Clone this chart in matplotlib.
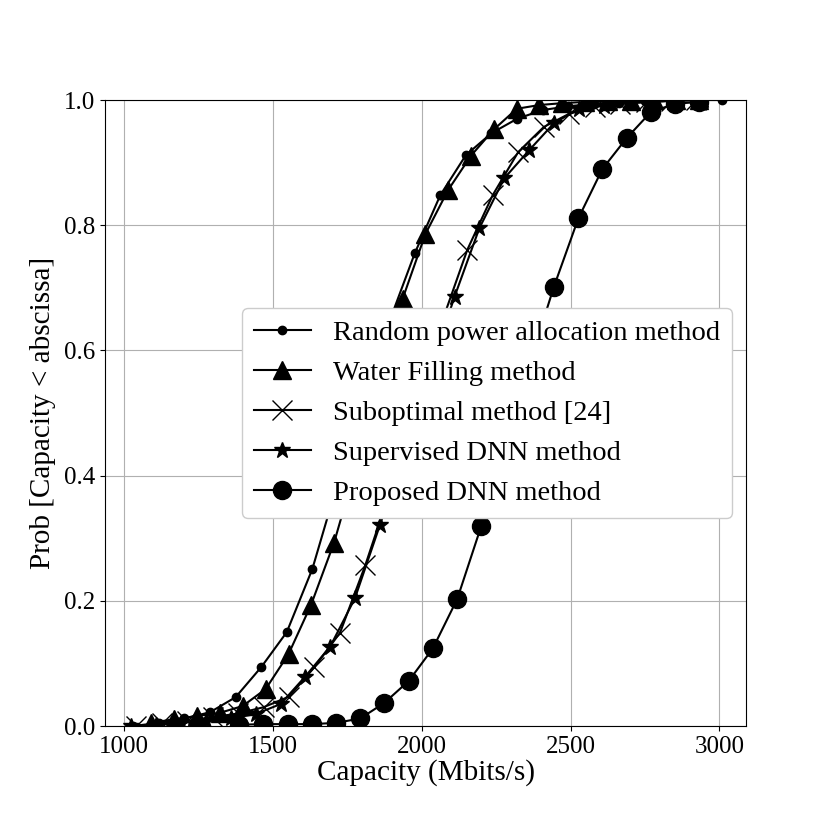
import matplotlib
matplotlib.use("Agg")
import matplotlib.pyplot as plt

plt.rcParams["font.family"] = ["Liberation Serif", "DejaVu Serif"]
plt.rcParams["font.size"] = 18

# Values ---------------------------------------------------------------------

random_cap = [1030, 1116, 1202, 1288, 1374, 1460, 1546, 1632, 1718, 1804, 1890, 1976,
              2062, 2148, 2234, 2320, 2406, 2492, 2578, 2664, 2750, 2836, 2922, 3008]
random_cdf = [0.0, 0.005, 0.012, 0.022, 0.046, 0.094, 0.150, 0.251, 0.39, 0.52, 0.645, 0.755,
              0.848, 0.912, 0.947, 0.970, 0.984, 0.990, 0.994, 0.996, 0.998, 0.999, 1.0, 1.0]

wf_cap = [1091, 1168, 1245, 1321, 1398, 1475, 1552, 1628, 1705, 1782, 1858, 1935, 2012,
          2088, 2165, 2242, 2319, 2395, 2472, 2549, 2625, 2702, 2779, 2855, 2932]
wf_cdf = [0.005, 0.011, 0.016, 0.021, 0.032, 0.059, 0.115, 0.194, 0.293, 0.42, 0.555, 0.682, 0.786,
          0.856, 0.911, 0.953, 0.986, 0.992, 0.995, 0.997, 0.998, 0.999, 1.0, 1.0, 1.0]

sub_cap = [1040, 1126, 1211, 1297, 1382, 1468, 1554, 1639, 1725, 1810, 1896, 1982,
           2067, 2153, 2238, 2324, 2410, 2495, 2581, 2666, 2752, 2838, 2923]
sub_cdf = [0.0, 0.004, 0.008, 0.014, 0.020, 0.030, 0.047, 0.094, 0.149, 0.257, 0.38, 0.52,
           0.645, 0.761, 0.848, 0.917, 0.957, 0.978, 0.989, 0.994, 0.997, 0.999, 1.0]

sup_cap = [1023, 1107, 1190, 1274, 1357, 1441, 1525, 1608, 1692, 1775, 1859, 1943,
           2026, 2110, 2193, 2277, 2361, 2444, 2528, 2611, 2695, 2779, 2862, 2946]
sup_cdf = [0.0, 0.002, 0.005, 0.008, 0.012, 0.019, 0.035, 0.079, 0.127, 0.204, 0.321, 0.443,
           0.565, 0.686, 0.795, 0.875, 0.920, 0.963, 0.986, 0.991, 0.995, 0.997, 0.999, 1.0]

prop_cap = [1386, 1467, 1549, 1630, 1712, 1793, 1874, 1956, 2037, 2119, 2200,
            2281, 2363, 2444, 2526, 2607, 2688, 2770, 2851, 2933]
prop_cdf = [0.002, 0.003, 0.003, 0.003, 0.005, 0.012, 0.037, 0.072, 0.124, 0.203, 0.320,
            0.45, 0.58, 0.702, 0.811, 0.890, 0.939, 0.981, 0.994, 0.997]

labels = ["Random power allocation method", "Water Filling method",
          "Suboptimal method [24]", "Supervised DNN method", "Proposed DNN method"]

fig = plt.figure(figsize=(8.3, 8.3), dpi=100)
ax = fig.add_axes([0.1265, 0.1253, 0.7725, 0.7542])

ax.plot(random_cap, random_cdf, "-o", color="k", lw=1.5, ms=6, label=labels[0])
ax.plot(wf_cap, wf_cdf, "-^", color="k", lw=1.5, ms=13, label=labels[1])
ax.plot(sub_cap, sub_cdf, "-x", color="k", lw=1.5, ms=14, mew=1.0, label=labels[2])
ax.plot(sup_cap, sup_cdf, "-*", color="k", lw=1.5, ms=12, label=labels[3])
ax.plot(prop_cap, prop_cdf, "-o", color="k", lw=1.5, ms=13, label=labels[4])

ax.set_xlim(935, 3090)
ax.set_ylim(0, 1.0)
ax.set_xticks([1000, 1500, 2000, 2500, 3000])
ax.set_yticks([0.0, 0.2, 0.4, 0.6, 0.8, 1.0])
ax.grid(True)
ax.set_xlabel("Capacity (Mbits/s)", fontsize=21, labelpad=1)
ax.set_ylabel("Prob [Capacity < abscissa]", fontsize=21, labelpad=6)
ax.legend(loc="center right", framealpha=1.0, fontsize=20.5)

fig.savefig("out.png", dpi=100, facecolor="white")
